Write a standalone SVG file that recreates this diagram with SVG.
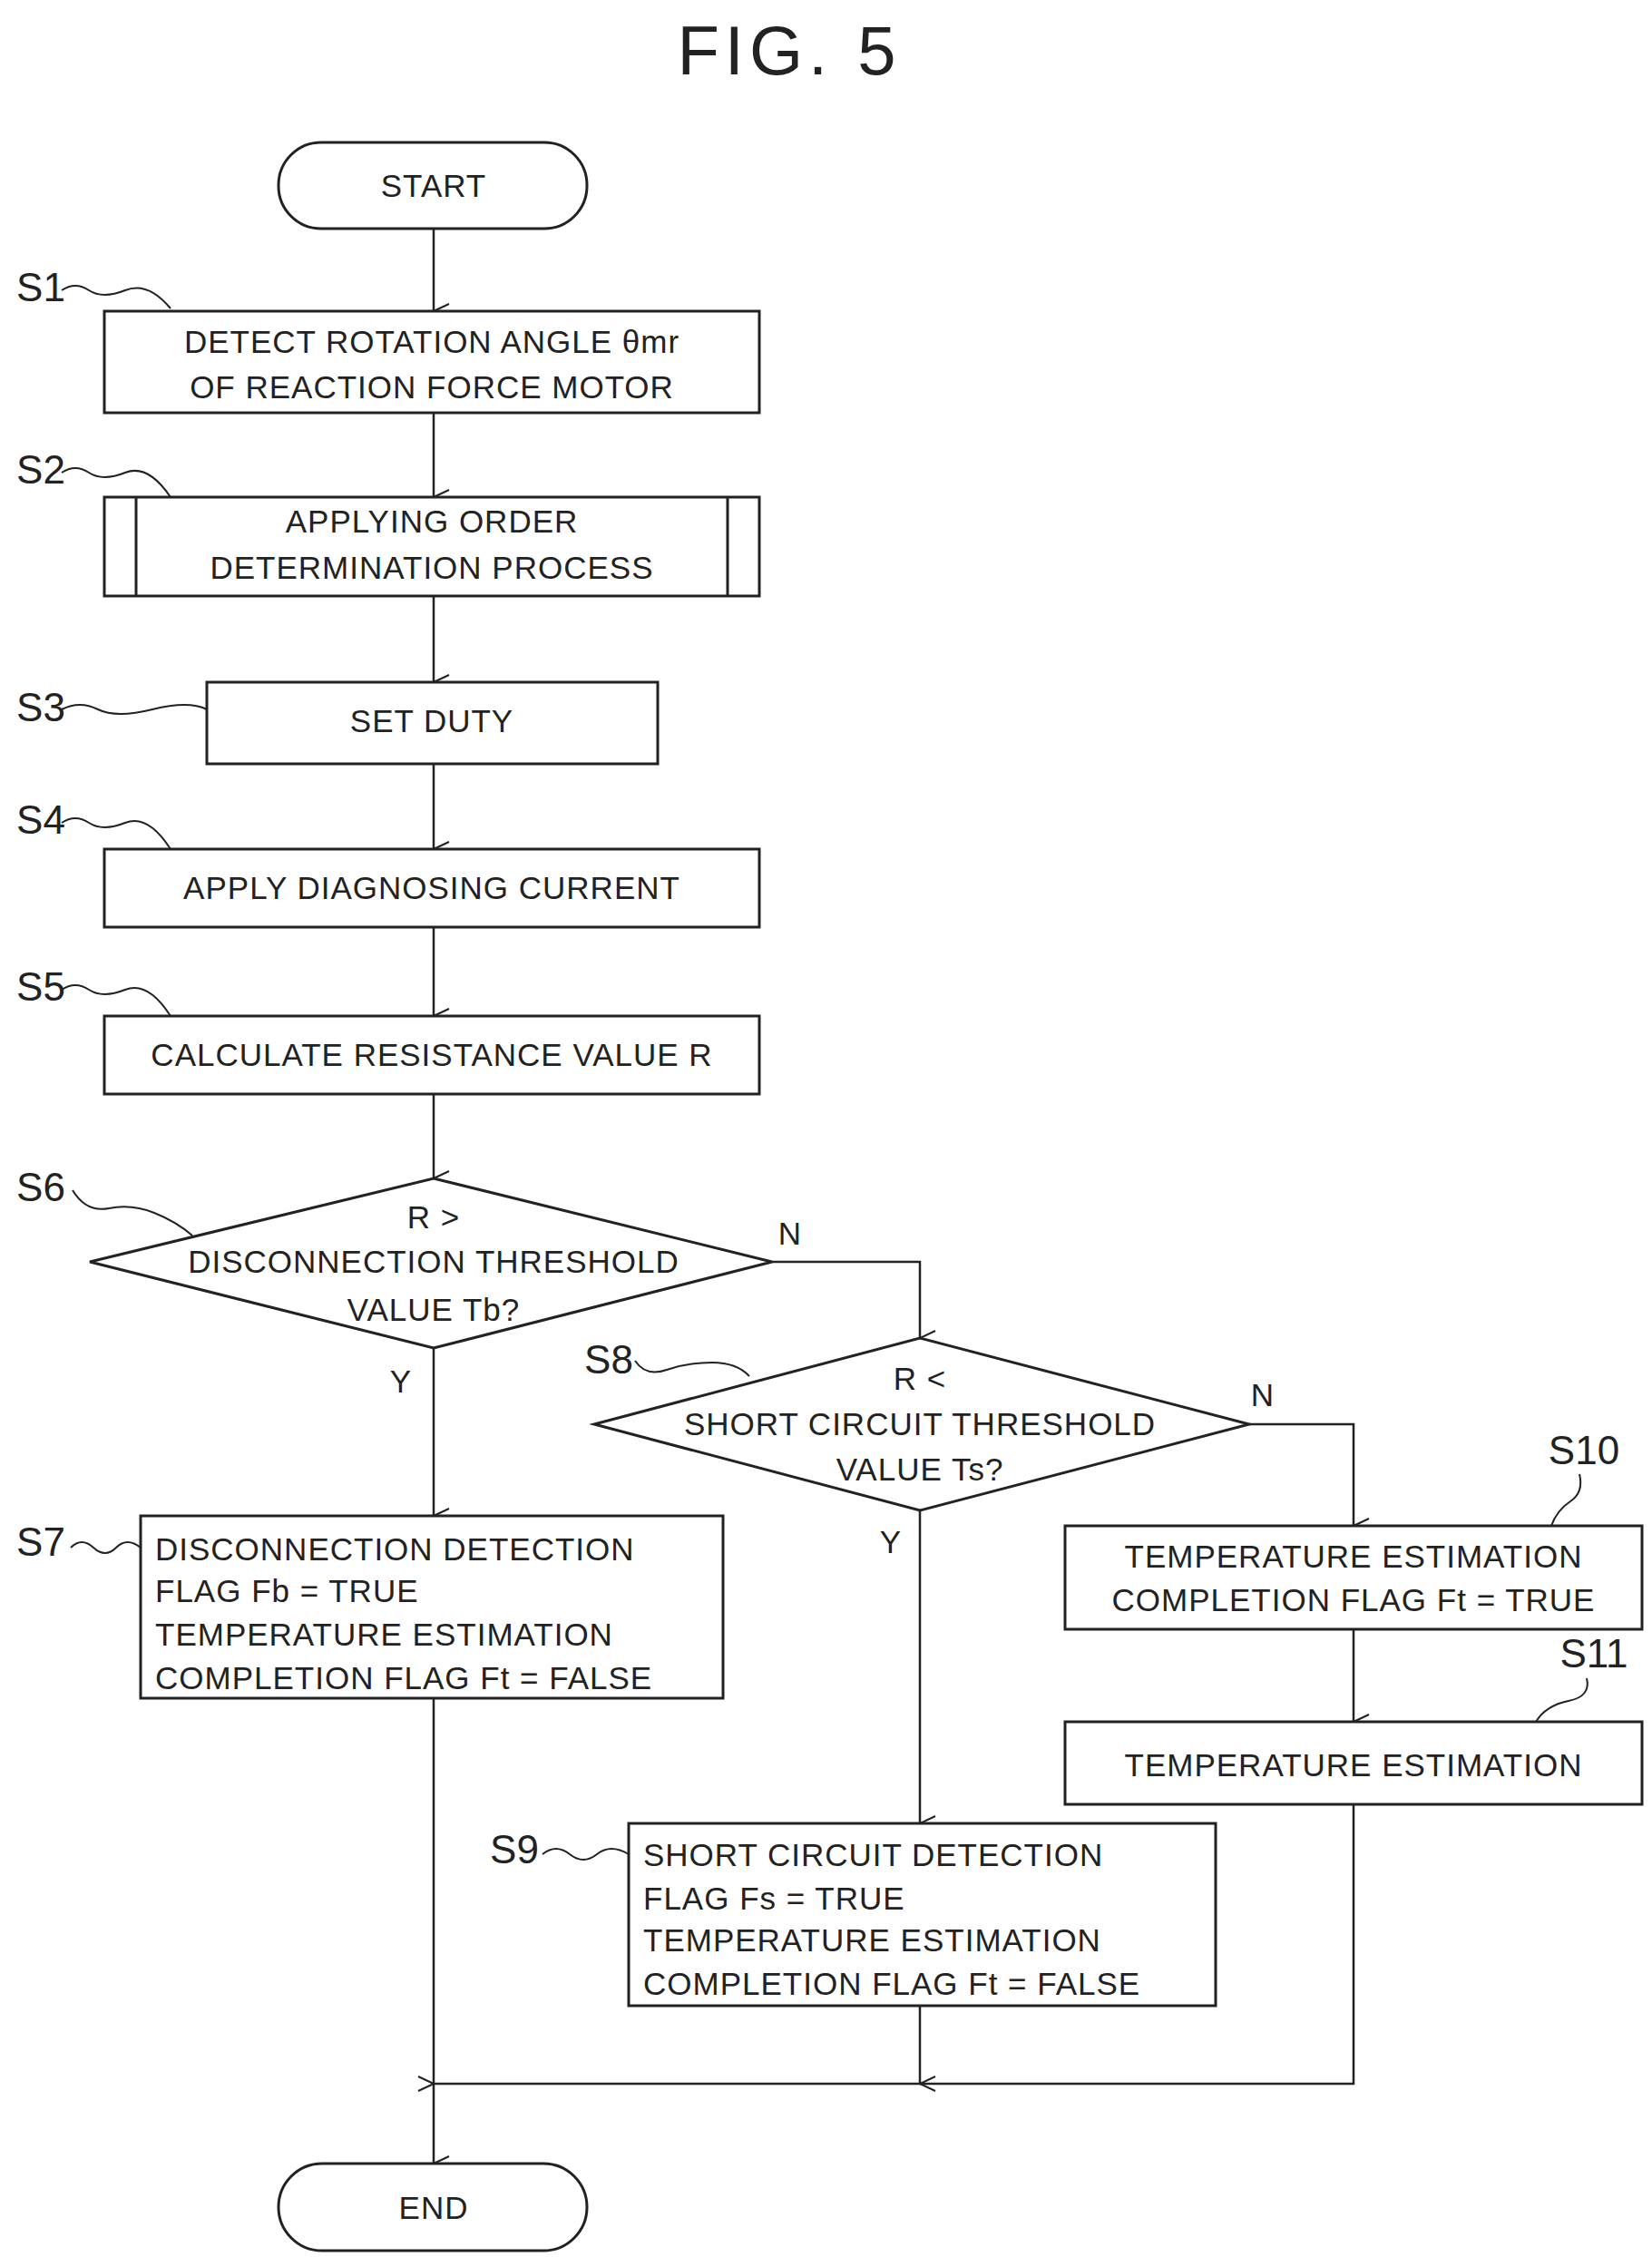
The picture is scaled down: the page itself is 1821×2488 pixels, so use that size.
<svg xmlns="http://www.w3.org/2000/svg" width="1821" height="2488" viewBox="0 0 1821 2488">
<defs>
<marker id="ah" viewBox="0 0 20 20" refX="10" refY="19" markerWidth="20" markerHeight="20" markerUnits="userSpaceOnUse" orient="auto-start-reverse">
<path d="M2,2 L10,19 L18,2" fill="none" stroke="#222" stroke-width="2"/>
</marker>
<marker id="ahl" viewBox="0 0 20 20" refX="19" refY="10" markerWidth="20" markerHeight="20" markerUnits="userSpaceOnUse" orient="0">
<path d="M2,2 L19,10 L2,18" fill="none" stroke="#222" stroke-width="2"/>
</marker>
</defs>
<style>
.b{fill:#fff;stroke:#222;stroke-width:3}
.t{font-family:"Liberation Sans",Arial,sans-serif;font-size:35px;fill:#222;letter-spacing:1px}
.c{text-anchor:middle}
.l{font-family:"Liberation Sans",Arial,sans-serif;font-size:44px;fill:#222}
.w{fill:none;stroke:#222;stroke-width:2}
.cn{fill:none;stroke:#222;stroke-width:2.5}
</style>
<rect width="1821" height="2488" fill="#fff"/>
<text x="870" y="82" class="t c" style="font-size:76px;letter-spacing:6px">FIG. 5</text>
<g id="connectors">
<line x1="478" y1="252" x2="478" y2="343" class="cn" marker-end="url(#ah)"/>
<line x1="478" y1="455" x2="478" y2="548" class="cn" marker-end="url(#ah)"/>
<line x1="478" y1="657" x2="478" y2="752" class="cn" marker-end="url(#ah)"/>
<line x1="478" y1="842" x2="478" y2="936" class="cn" marker-end="url(#ah)"/>
<line x1="478" y1="1022" x2="478" y2="1120" class="cn" marker-end="url(#ah)"/>
<line x1="478" y1="1206" x2="478" y2="1299" class="cn" marker-end="url(#ah)"/>
<line x1="478" y1="1486" x2="478" y2="1671" class="cn" marker-end="url(#ah)"/>
<polyline points="851,1391 1014,1391 1014,1475" class="cn" marker-end="url(#ah)"/>
<polyline points="1377,1570 1492,1570 1492,1682" class="cn" marker-end="url(#ah)"/>
<line x1="1014" y1="1665" x2="1014" y2="2010" class="cn" marker-end="url(#ah)"/>
<line x1="1492" y1="1796" x2="1492" y2="1898" class="cn" marker-end="url(#ah)"/>
<line x1="1014" y1="2211" x2="1014" y2="2297" class="cn" marker-end="url(#ah)"/>
<polyline points="1492,1989 1492,2297 478,2297" class="cn" marker-end="url(#ahl)"/>
<line x1="478" y1="1872" x2="478" y2="2385" class="cn" marker-end="url(#ah)"/>
<text x="871" y="1372" class="t c">N</text>
<text x="442" y="1535" class="t c">Y</text>
<text x="1392" y="1550" class="t c">N</text>
<text x="982" y="1712" class="t c">Y</text>
</g>
<g id="start"><rect x="307" y="157" width="340" height="95" rx="47" class="b"/><text x="478" y="217" class="t c">START</text></g>
<g id="s1"><rect x="115" y="343" width="722" height="112" class="b"/><text x="476" y="389" class="t c">DETECT ROTATION ANGLE θmr</text><text x="476" y="439" class="t c">OF REACTION FORCE MOTOR</text>
<text x="45" y="332" class="l c">S1</text><path d="M68,320 q15,-10 30,0 t40,0 t50,20" class="w"/></g>
<g id="s2"><rect x="115" y="548" width="722" height="109" class="b"/><line x1="150" y1="548" x2="150" y2="657" class="b"/><line x1="802" y1="548" x2="802" y2="657" class="b"/><text x="476" y="587" class="t c">APPLYING ORDER</text><text x="476" y="638" class="t c">DETERMINATION PROCESS</text>
<text x="45" y="533" class="l c">S2</text><path d="M68,521 q15,-10 30,0 t40,0 t50,27" class="w"/></g>
<g id="s3"><rect x="228" y="752" width="497" height="90" class="b"/><text x="476" y="807" class="t c">SET DUTY</text>
<text x="45" y="795" class="l c">S3</text><path d="M68,782 q20,-10 40,0 t60,0 t60,0" class="w"/></g>
<g id="s4"><rect x="115" y="936" width="722" height="86" class="b"/><text x="476" y="991" class="t c">APPLY DIAGNOSING CURRENT</text>
<text x="45" y="919" class="l c">S4</text><path d="M68,907 q15,-10 30,0 t40,0 t50,29" class="w"/></g>
<g id="s5"><rect x="115" y="1120" width="722" height="86" class="b"/><text x="476" y="1175" class="t c">CALCULATE RESISTANCE VALUE R</text>
<text x="45" y="1103" class="l c">S5</text><path d="M68,1091 q15,-10 30,0 t40,0 t50,29" class="w"/></g>
<g id="s6"><polygon points="478,1299 851,1391 478,1486 99,1391" class="b"/><text x="478" y="1354" class="t c">R &gt;</text><text x="478" y="1403" class="t c">DISCONNECTION THRESHOLD</text><text x="478" y="1456" class="t c">VALUE Tb?</text>
<text x="45" y="1324" class="l c">S6</text><path d="M80,1312 q15,25 40,20 t50,5 t42,25" class="w"/></g>
<g id="s7"><rect x="155" y="1671" width="642" height="201" class="b"/><text x="171" y="1720" class="t">DISCONNECTION DETECTION</text><text x="171" y="1766" class="t">FLAG Fb = TRUE</text><text x="171" y="1814" class="t">TEMPERATURE ESTIMATION</text><text x="171" y="1862" class="t">COMPLETION FLAG Ft = FALSE</text>
<text x="45" y="1715" class="l c">S7</text><path d="M78,1706 q12,-12 25,0 t25,0 t27,0" class="w"/></g>
<g id="s8"><polygon points="1014,1475 1377,1570 1014,1665 655,1570" class="b"/><text x="1014" y="1532" class="t c">R &lt;</text><text x="1014" y="1582" class="t c">SHORT CIRCUIT THRESHOLD</text><text x="1014" y="1632" class="t c">VALUE Ts?</text>
<text x="671" y="1514" class="l c">S8</text><path d="M700,1500 q12,18 35,10 t50,-8 t41,15" class="w"/></g>
<g id="s9"><rect x="693" y="2010" width="647" height="201" class="b"/><text x="709" y="2057" class="t">SHORT CIRCUIT DETECTION</text><text x="709" y="2105" class="t">FLAG Fs = TRUE</text><text x="709" y="2151" class="t">TEMPERATURE ESTIMATION</text><text x="709" y="2199" class="t">COMPLETION FLAG Ft = FALSE</text>
<text x="567" y="2054" class="l c">S9</text><path d="M598,2044 q15,-12 30,0 t30,0 t35,0" class="w"/></g>
<g id="s10"><rect x="1174" y="1682" width="636" height="114" class="b"/><text x="1492" y="1728" class="t c">TEMPERATURE ESTIMATION</text><text x="1492" y="1776" class="t c">COMPLETION FLAG Ft = TRUE</text>
<text x="1746" y="1614" class="l c">S10</text><path d="M1741,1625 q5,20 -10,30 t-21,27" class="w"/></g>
<g id="s11"><rect x="1174" y="1898" width="636" height="91" class="b"/><text x="1492" y="1958" class="t c">TEMPERATURE ESTIMATION</text>
<text x="1757" y="1838" class="l c">S11</text><path d="M1749,1850 q5,20 -20,25 t-36,23" class="w"/></g>
<g id="end"><rect x="307" y="2385" width="340" height="96" rx="48" class="b"/><text x="478" y="2446" class="t c">END</text></g>
</svg>
